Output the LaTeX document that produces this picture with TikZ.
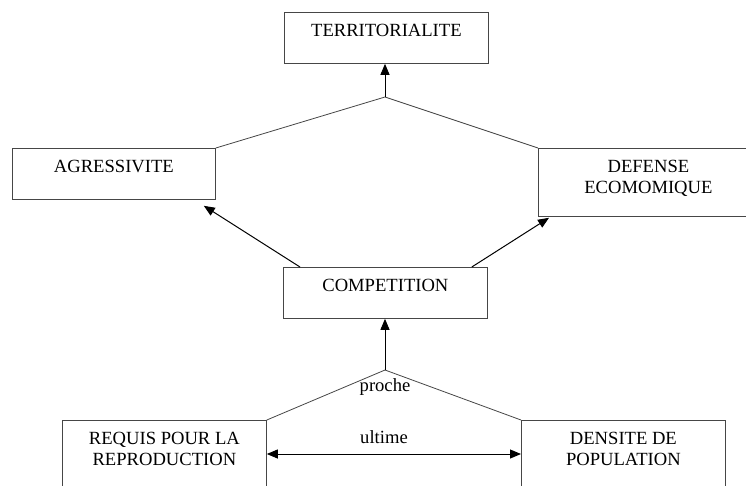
\documentclass[tikz,border=0pt]{standalone}
\usepackage{fontspec}
\setmainfont{Liberation Serif}
\usepackage{tikz}
\usetikzlibrary{arrows.meta,positioning,shapes}
\definecolor{linegray}{RGB}{70,70,70}
\tikzset{
	one line/.style={text height=24pt,text depth=27pt},
	two lines/.style={text height=45pt,text depth=23pt},
	link/.style={draw=linegray,line width=0.8pt},
	cause/.style={-{Triangle[length=11pt,width=9pt]},line width=1pt},
	both causes/.style={{Triangle[length=11pt,width=9pt]}-{Triangle[length=11pt,width=9pt]},line width=1pt}
}

\begin{document}
\begin{tikzpicture}[
			x=1pt, y=-1pt,
			box/.style = {rectangle, draw = linegray, line width = 0.8pt, anchor = north west, inner xsep = 0pt, inner ysep = 0pt, minimum width = 204pt, align = center, font = \fontsize{18.6}{20.5}\selectfont},
			word/.style = {inner sep = 0pt, font = \fontsize{18.6}{20.5}\selectfont},
		]
			\useasboundingbox (0, 0) rectangle (746, 485);
			\clip (0, 0) rectangle (746, 485);

			% boxes
			\node [box, one line]  (terr) at (284, 12)  {TERRITORIALITE};
			\node [box, one line, minimum width = 203pt] (agr) at (12, 148) {AGRESSIVITE};
			\node [box, two lines, minimum width = 220pt] (def) at (538, 148) {DEFENSE\\ECOMOMIQUE};
			\node [box, one line]  (comp) at (283, 267) {COMPETITION};
			\node [box, two lines, text depth = 60pt] (req) at (62, 420) {REQUIS POUR LA\\REPRODUCTION};
			\node [box, two lines, text depth = 60pt] (dens) at (521, 420) {DENSITE DE\\POPULATION};

			% junctions
			\coordinate (top) at (385, 97);
			\coordinate (bottom) at (385, 370);

			\draw [link] (agr.north east) -- (top) -- (def.north west);
			\draw [cause] (top) -- (top |- terr.south);

			\draw [cause] ([xshift = 17pt]comp.north west) -- ([xshift = -12pt, yshift = -6pt]agr.south east);
			\draw [cause] ([xshift = -16pt]comp.north east) -- ([xshift = 11pt, yshift = -1pt]def.south west);

			\draw [link] (req.north east) -- (bottom) -- (dens.north west);
			\draw [cause] (bottom) -- (bottom |- comp.south);

			\node [word] (proche) at (385, 387) {proche};
			\node [word] (ultime) at (384, 437) {ultime};
			\draw [both causes] ([yshift = -34pt]req.north east) -- ([yshift = -34pt]dens.north west);
		\end{tikzpicture}
\end{document}
